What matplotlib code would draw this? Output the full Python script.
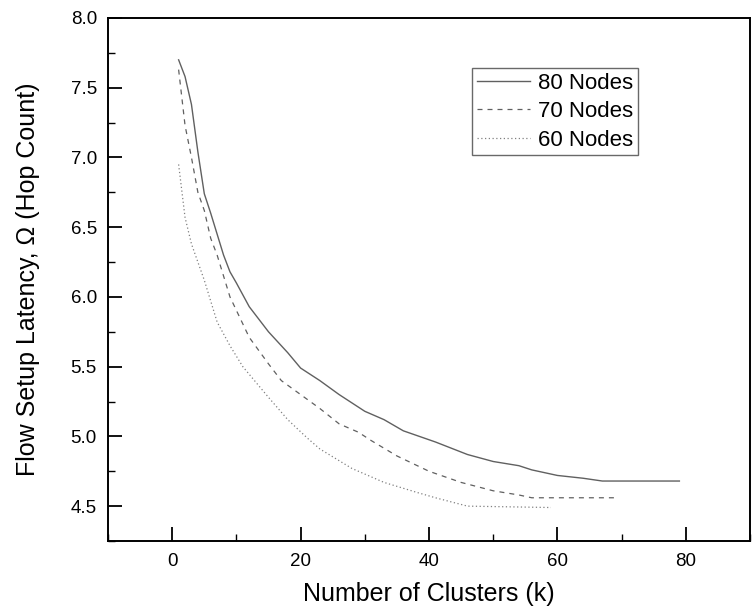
import matplotlib
matplotlib.use("Agg")
import matplotlib.pyplot as plt
from matplotlib.ticker import MultipleLocator, FormatStrFormatter

plt.rcParams['font.family'] = ['Liberation Sans', 'DejaVu Sans']

k80 = [1, 2, 3, 4, 5, 6, 8, 9, 10, 12, 15, 18, 20, 23, 26, 30, 33, 36, 41, 46, 50, 54, 56, 60, 64, 67, 79]
y80 = [7.70, 7.58, 7.38, 7.04, 6.74, 6.60, 6.30, 6.18, 6.10, 5.93, 5.75, 5.60, 5.49, 5.40, 5.30, 5.18,
       5.12, 5.04, 4.96, 4.87, 4.82, 4.79, 4.76, 4.72, 4.70, 4.68, 4.68]

k70 = [1, 2, 3, 4, 5, 6, 7, 9, 12, 15, 17, 20, 23, 26, 29, 31, 35, 40, 45, 50, 54, 56, 69]
y70 = [7.63, 7.23, 7.00, 6.75, 6.62, 6.42, 6.30, 6.00, 5.71, 5.52, 5.40, 5.30, 5.20, 5.09, 5.03, 4.97,
       4.86, 4.75, 4.67, 4.61, 4.58, 4.56, 4.56]

k60 = [1, 2, 3, 4, 5, 7, 9, 11, 15, 18, 21, 23, 28, 33, 38, 41, 46, 59]
y60 = [6.95, 6.57, 6.38, 6.25, 6.12, 5.82, 5.65, 5.50, 5.28, 5.12, 4.99, 4.91, 4.77, 4.67, 4.60, 4.56,
       4.50, 4.49]

labels = ["80 Nodes", "70 Nodes", "60 Nodes"]

fig = plt.figure(figsize=(7.56, 6.16), dpi=100)
ax = fig.add_axes([108 / 756, 1 - 541 / 616, (750 - 108) / 756, (541 - 18) / 616])

ax.plot(k80, y80, color='#606060', lw=1.0, ls='-', label=labels[0])
ax.plot(k70, y70, color='#606060', lw=0.9, ls=(0, (4, 4)), label=labels[1])
ax.plot(k60, y60, color='#808080', lw=0.9, ls=(0, (1, 2)), label=labels[2])

ax.set_xlim(-10, 90)
ax.set_ylim(4.25, 8.0)
ax.xaxis.set_major_locator(MultipleLocator(20))
ax.xaxis.set_minor_locator(MultipleLocator(10))
ax.yaxis.set_major_locator(MultipleLocator(0.5))
ax.yaxis.set_minor_locator(MultipleLocator(0.25))
ax.yaxis.set_major_formatter(FormatStrFormatter('%.1f'))
ax.tick_params(which='major', direction='in', length=10, width=1.3, labelsize=13.5,
               top=False, right=False)
ax.tick_params(which='minor', direction='in', length=5, width=1.0, top=False, right=False)
ax.tick_params(axis='x', pad=9)
ax.tick_params(axis='y', pad=8)
for s in ax.spines.values():
    s.set_linewidth(1.4)

ax.set_xlabel("Number of Clusters (k)", fontsize=18, labelpad=8)
ax.set_ylabel("Flow Setup Latency, Ω (Hop Count)", fontsize=18, labelpad=22)

leg = ax.legend(loc='upper left', bbox_to_anchor=((472 - 108) / 642, 1 - (68 - 18) / 523),
                fontsize=16, frameon=True, fancybox=False, borderpad=0.22, handlelength=2.4,
                handletextpad=0.35, labelspacing=0.33, borderaxespad=0)
leg.get_frame().set_edgecolor('#444444')
leg.get_frame().set_linewidth(1.0)

fig.savefig("out.png", dpi=100)
